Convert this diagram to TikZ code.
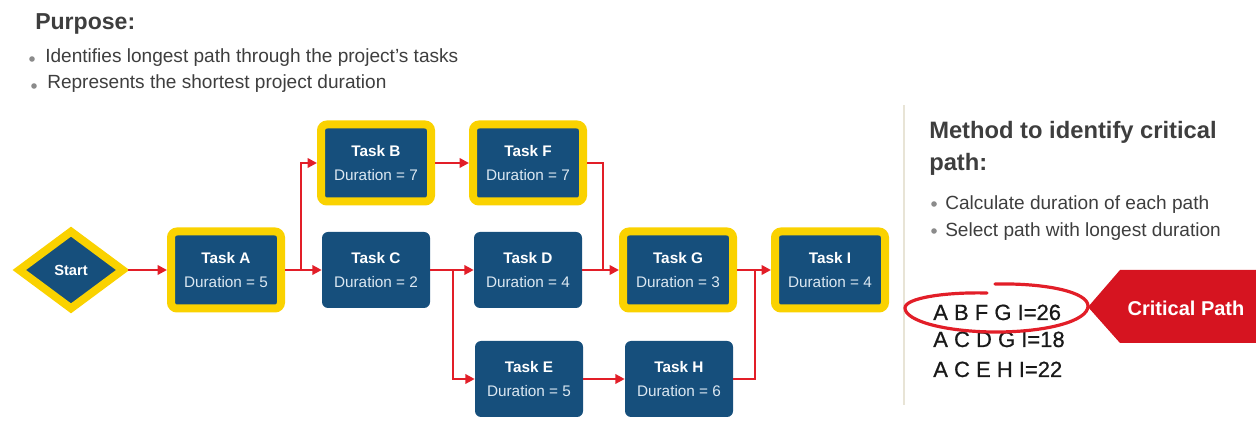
\documentclass[tikz,border=0pt]{standalone}
\usepackage{fontspec}
\setmainfont{Liberation Sans}
\newfontfamily\medfont[FakeBold=0.7]{Liberation Sans}
\usetikzlibrary{shapes.geometric,arrows.meta}
\definecolor{nblue}{RGB}{22,79,124}
\definecolor{nyellow}{RGB}{250,210,0}
\definecolor{nred}{RGB}{226,30,40}
\definecolor{bred}{RGB}{214,20,32}
\definecolor{ngray}{RGB}{62,62,62}
\definecolor{nlight}{RGB}{220,232,242}
\definecolor{sepc}{RGB}{232,228,214}
\begin{document}
\begin{tikzpicture}[x=0.75pt,y=-0.75pt,
  taskbox/.style={rectangle, fill=nblue, rounded corners=4.5pt, minimum width=81pt, minimum height=57pt,
    inner sep=0pt, align=center, text=white, font=\fontsize{11.5}{18}\selectfont},
  crit/.style={taskbox, draw=nyellow, line width=6pt, minimum width=82.5pt, minimum height=57.75pt},
  arr/.style={draw=nred, line width=1.8pt, -{Triangle[length=7pt,width=7pt]}},
  ln/.style={draw=nred, line width=1.8pt},
  txt/.style={anchor=base west, inner sep=0pt, text=ngray},
  dot/.style={fill=ngray!60}
]
\useasboundingbox (0,0) rectangle (1256,423);

% left texts
\node[txt, font=\bfseries\fontsize{17.3}{20}\selectfont] (purpose) at (35,30) {Purpose:};
\fill[dot] (32,59) circle[radius=2.1pt];
\node[txt, font=\fontsize{14.3}{17}\selectfont] (p1) at (45,63) {Identifies longest path through the project's tasks};
\fill[dot] (34,86) circle[radius=2.1pt];
\node[txt, font=\fontsize{14.3}{17}\selectfont] (p2) at (47,89) {Represents the shortest project duration};

% nodes
\node[diamond, fill=nblue, draw=nyellow, line width=6pt, minimum width=80pt, minimum height=60pt,
  inner sep=0pt, text=white, font=\bfseries\fontsize{11}{13}\selectfont] (S) at (71,270) {Start};
\node[crit] (A) at (226,270) {\textbf{Task A}\\\textcolor{nlight}{Duration = 5}};
\node[crit] (B) at (376,163) {\textbf{Task B}\\\textcolor{nlight}{Duration = 7}};
\node[crit] (F) at (528,163) {\textbf{Task F}\\\textcolor{nlight}{Duration = 7}};
\node[taskbox] (C) at (376,270) {\textbf{Task C}\\\textcolor{nlight}{Duration = 2}};
\node[taskbox] (D) at (528,270) {\textbf{Task D}\\\textcolor{nlight}{Duration = 4}};
\node[crit] (G) at (678,270) {\textbf{Task G}\\\textcolor{nlight}{Duration = 3}};
\node[crit] (I) at (830,270) {\textbf{Task I}\\\textcolor{nlight}{Duration = 4}};
\node[taskbox] (E) at (529,379) {\textbf{Task E}\\\textcolor{nlight}{Duration = 5}};
\node[taskbox] (H) at (679,379) {\textbf{Task H}\\\textcolor{nlight}{Duration = 6}};

% connectors
\coordinate (j1) at (301,270);
\coordinate (j2) at (453,270);
\coordinate (j3) at (603,270);
\coordinate (j4) at (755,270);
\draw[arr] (S.east) -- (A.west);
\draw[ln] (A.east) -- (j1);
\draw[arr] (j1) |- (B.west);
\draw[arr] (j1) -- (C.west);
\draw[arr] (B.east) -- (F.west);
\draw[arr] (C.east) -- (D.west);
\draw[arr] (j2) |- (E.west);
\draw[arr] (E.east) -- (H.west);
\draw[ln] (F.east) -| (j3);
\draw[arr] (D.east) -- (G.west);
\draw[arr] (G.east) -- (I.west);
\draw[ln] (H.east) -| (j4);

% right panel
\draw[sepc, line width=1pt] (904,105) -- (904,405);
\node[txt, font=\bfseries\fontsize{17.8}{20}\selectfont] (m1) at (929,139) {Method to identify critical};
\node[txt, font=\bfseries\fontsize{17.8}{20}\selectfont] (m2) at (929,171) {path:};
\fill[dot] (934,204) circle[radius=2.1pt];
\node[txt, font=\fontsize{14.3}{17}\selectfont] (c1) at (945,210) {Calculate duration of each path};
\fill[dot] (934,231) circle[radius=2.1pt];
\node[txt, font=\fontsize{14.3}{17}\selectfont] (c2) at (945,237) {Select path with longest duration};

\fill[bred] (1088,307) -- (1120,270) -- (1256,270) -- (1256,343) -- (1120,343) -- cycle;
\node[anchor=base, inner sep=0pt, text=white, font=\bfseries\fontsize{15}{17}\selectfont] (cp) at (1186,316) {Critical Path};

\node[txt, text=black!90, font=\medfont\fontsize{16.5}{19}\selectfont] (r1) at (933,320) {A B F G I=26};
\node[txt, text=black!90, font=\medfont\fontsize{16.5}{19}\selectfont] (r2) at (933,347) {A C D G I=18};
\node[txt, text=black!90, font=\medfont\fontsize{16.5}{19}\selectfont] (r3) at (933,377) {A C E H I=22};

\draw[nred, line width=2.4pt, line cap=round]
  (995,284) .. controls (1046,283) and (1088,292) .. (1088,306)
  .. controls (1088,321) and (1047,332) .. (996,332)
  .. controls (946,332) and (905,321) .. (905,308)
  .. controls (905,298) and (945,292) .. (987,293);
\end{tikzpicture}
\end{document}
